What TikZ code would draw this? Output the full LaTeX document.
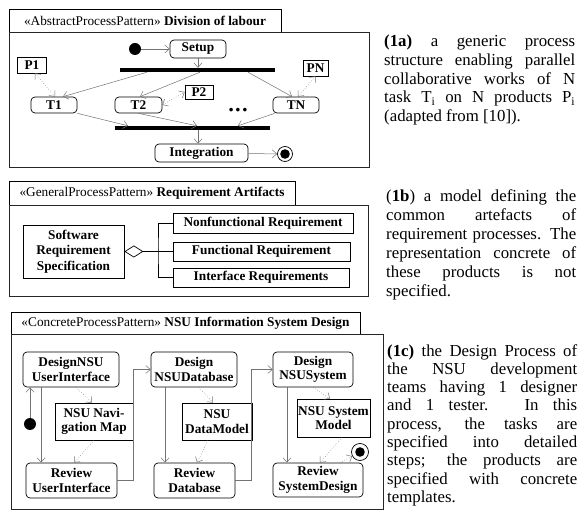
\documentclass[tikz,border=0pt]{standalone}
\usepackage{fontspec}
\setmainfont{Liberation Serif}
\usetikzlibrary{arrows.meta,shadows}

\newcommand\jline[2][190pt]{\makebox[#1][s]{#2}}

\tikzset{
  every node/.style={font=\fontsize{13.3}{14.5}\selectfont\bfseries},
  >={Straight Barb[length=4.5pt,width=8pt]},
  sized/.style 2 args={minimum width=#1,minimum height=#2},
  tab/.style={draw,inner sep=0pt,fill=white},
  frame/.style={draw=black!85,fill=white,line width=0.8pt},
  task/.style={draw,rounded corners=4pt,inner sep=0pt,align=center,line width=0.7pt},
  artefact/.style={draw,inner sep=0pt,align=center,line width=0.7pt},
  shadowed/.style={drop shadow={shadow xshift=1.2pt,shadow yshift=-1.2pt,fill=black!55,opacity=1}},
  bar/.style={fill=black,inner sep=0pt,minimum height=4pt},
  start/.style={circle,fill=black,minimum size=12pt,inner sep=0pt},
  final/.style={circle,draw,fill=white,minimum size=15pt,inner sep=0pt,line width=0.7pt,
    path picture={\fill[black] (path picture bounding box.center) circle (4.8pt);}},
  flow/.style={draw=black!55,line width=0.5pt,->},
  dataflow/.style={flow,dotted},
  caption/.style={anchor=north west,inner sep=0pt,align=left,font=\fontsize{16.8}{18.7}\selectfont}
}

\begin{document}
\begin{tikzpicture}[x=1pt,y=-1pt]
\useasboundingbox (0,0) rectangle (581,510);

% (1a) division of labour
\node[tab,sized={272pt}{23pt}] (tab1) at (145,20.5) {{\mdseries«AbstractProcessPattern»} Division of labour};
\draw[frame] (9,32) rectangle (369,167);
\node[start] (start1) at (135,49) {};
\node[task,sized={56pt}{18pt}] (setup) at (198,49) {Setup};
\node[bar,minimum width=155pt] (forkbar) at (197.5,70) {};
\node[artefact,sized={29pt}{16pt}] (P1) at (32,65) {P1};
\node[task,sized={46pt}{16pt}] (T1) at (54,105) {T1};
\node[task,sized={47pt}{16pt}] (T2) at (138.5,105) {T2};
\node[artefact,sized={28pt}{14pt}] (P2) at (199,92) {P2};
\node[task,sized={46pt}{16pt}] (TN) at (296,105) {TN};
\node[artefact,sized={25pt}{16pt}] (PN) at (315.5,68) {PN};
\node (dots) at (238,111) {\textbullet\,\textbullet\,\textbullet};
\node[bar,minimum width=155pt] (joinbar) at (192.5,128) {};
\node[task,sized={93pt}{18pt}] (integ) at (201.5,153) {Integration};
\node[final] (end1) at (285,154) {};

\draw[flow] (start1) -- (setup);
\draw[flow] (setup.south) -- (setup.south |- forkbar.north);
\draw[flow] ([xshift=-50.5pt]forkbar.south) -- ([xshift=9pt]T1.north);
\draw[flow] ([xshift=2.5pt]forkbar.south) -- ([xshift=1.5pt]T2.north);
\draw[flow] ([xshift=50.5pt]forkbar.south) -- ([xshift=-4pt]TN.north);
\draw[flow] (T1.south east) -- ([xshift=-64.5pt]joinbar.north);
\draw[flow] (T2.south) -- ([xshift=4.5pt]joinbar.north);
\draw[flow] ([xshift=2pt]TN.south west) -- ([xshift=45.5pt]joinbar.north);
\draw[flow] ([xshift=5.5pt]joinbar.south) -- ([xshift=5.5pt]joinbar.south |- integ.north);
\draw[flow] (integ) -- (end1);
\draw[dataflow,<->] ([xshift=3pt]P1.south) -- ([xshift=1pt]T1.north);
\draw[dataflow,<->] (T2.east) -- (P2.west);
\draw[dataflow,<->] ([xshift=2pt]TN.north) -- (PN.south);

\node[caption] (cap1) at (384,35) {%
  \jline[191pt]{\textbf{(1a)} a generic process}\\
  \jline[191pt]{structure enabling parallel}\\
  \jline[191pt]{collaborative works of N}\\
  \jline[191pt]{task T\textsubscript{i} on N products P\textsubscript{i}}\\
  (adapted from [10]).};

% (1b) requirement artifacts
\node[tab,sized={286pt}{24pt}] (tab2) at (152,193) {{\mdseries«GeneralProcessPattern»} Requirement Artifacts};
\draw[frame,shadowed] (9,205) rectangle (368,296);
\node[artefact,shadowed,fill=white,sized={101pt}{53pt},font=\fontsize{13.3}{15.5}\selectfont\bfseries] (srs) at (73.5,251.5) {Software\\Requirement\\Specification};
\node[artefact,shadowed,fill=white,sized={180pt}{20pt}] (nfr) at (263,223) {Nonfunctional Requirement};
\node[artefact,shadowed,fill=white,sized={177pt}{19pt}] (fr) at (261.5,251.5) {Functional Requirement};
\node[artefact,shadowed,fill=white,sized={176pt}{19pt}] (ir) at (261,277.5) {Interface Requirements};
\coordinate (hub) at (158,251.5);

\draw[{Diamond[open,length=19pt,width=12pt]}-,line width=0.7pt] (srs.east) -- (hub);
\draw[line width=0.7pt] (nfr.west) -| (hub) |- (ir.west);
\draw[line width=0.7pt] (hub) -- (fr.west);

\node[caption,font=\fontsize{16.8}{19}\selectfont] (cap2) at (386,189) {%
  \jline{(\textbf{1b}) a model defining the}\\
  \jline{common artefacts of}\\
  \jline{requirement processes. The}\\
  \jline{representation concrete of}\\
  \jline{these products is not}\\
  specified.};

% (1c) NSU design
\node[tab,sized={349pt}{22pt}] (tab3) at (185.5,323) {{\mdseries«ConcreteProcessPattern»} NSU Information System Design};
\draw[frame,shadowed] (11,334) rectangle (383,509);
\node[task,sized={96pt}{35pt}] (dui) at (71,369.5) {DesignNSU\\UserInterface};
\node[artefact,sized={78pt}{37pt}] (navmap) at (94,421.5) {NSU Navi-\\gation Map};
\node[task,sized={91pt}{35pt}] (rui) at (71.5,480.5) {Review\\UserInterface};
\node[task,sized={86pt}{35pt}] (ddb) at (194,369.5) {Design\\NSUDatabase};
\node[artefact,sized={70pt}{37pt}] (datamodel) at (217,421.5) {NSU\\DataModel};
\node[task,sized={81pt}{35pt}] (rdb) at (194.5,480.5) {Review\\Database};
\node[task,sized={80pt}{35pt}] (dsys) at (313,369.5) {Design\\NSUSystem};
\node[artefact,sized={73pt}{38pt}] (sysmodel) at (333.5,418) {NSU System\\Model};
\node[task,sized={90pt}{34pt}] (rsys) at (318,480) {Review\\SystemDesign};
\node[start] (start3) at (30,424) {};
\node[final,minimum size=17pt] (end3) at (360,452) {};

\draw[flow] (start3.north) -- (start3.north |- dui.south);
\draw[flow] ([xshift=-30pt]dui.south) -- ([xshift=-30pt]dui.south |- rui.north);
\draw[dataflow] ([xshift=5pt]dui.south) -- ([xshift=-2pt]navmap.north);
\draw[dataflow] (navmap.south) -- ([xshift=2.5pt]rui.north);
\draw[flow] (rui.east) -- ++(16,0) |- (ddb.west);
\draw[flow] ([xshift=-29pt]ddb.south) -- ([xshift=-29pt]ddb.south |- rdb.north);
\draw[dataflow] ([xshift=5pt]ddb.south) -- ([xshift=-4pt]datamodel.north);
\draw[dataflow] ([xshift=-9pt]datamodel.south) -- ([xshift=2.5pt]rdb.north);
\draw[flow] (rdb.east) -- ++(16,0) |- (dsys.west);
\draw[flow] ([xshift=-26pt]dsys.south) -- ([xshift=-26pt]dsys.south |- rsys.north);
\draw[dataflow] (dsys.south) -- ([xshift=-3.5pt]sysmodel.north);
\draw[dataflow] ([xshift=8.5pt]sysmodel.south) -- ([xshift=2pt]rsys.north);
\draw[dataflow] ([xshift=22pt]rsys.north) -- (end3);

\node[caption,font=\fontsize{16.8}{18.3}\selectfont] (cap3) at (387,344) {%
  \jline{\textbf{(1c)} the Design Process of}\\
  \jline{the NSU development}\\
  \jline{teams having 1 designer}\\
  \jline{and 1 tester. In this}\\
  \jline{process, the tasks are}\\
  \jline{specified into detailed}\\
  \jline{steps; the products are}\\
  \jline{specified with concrete}\\
  templates.};
\end{tikzpicture}
\end{document}
